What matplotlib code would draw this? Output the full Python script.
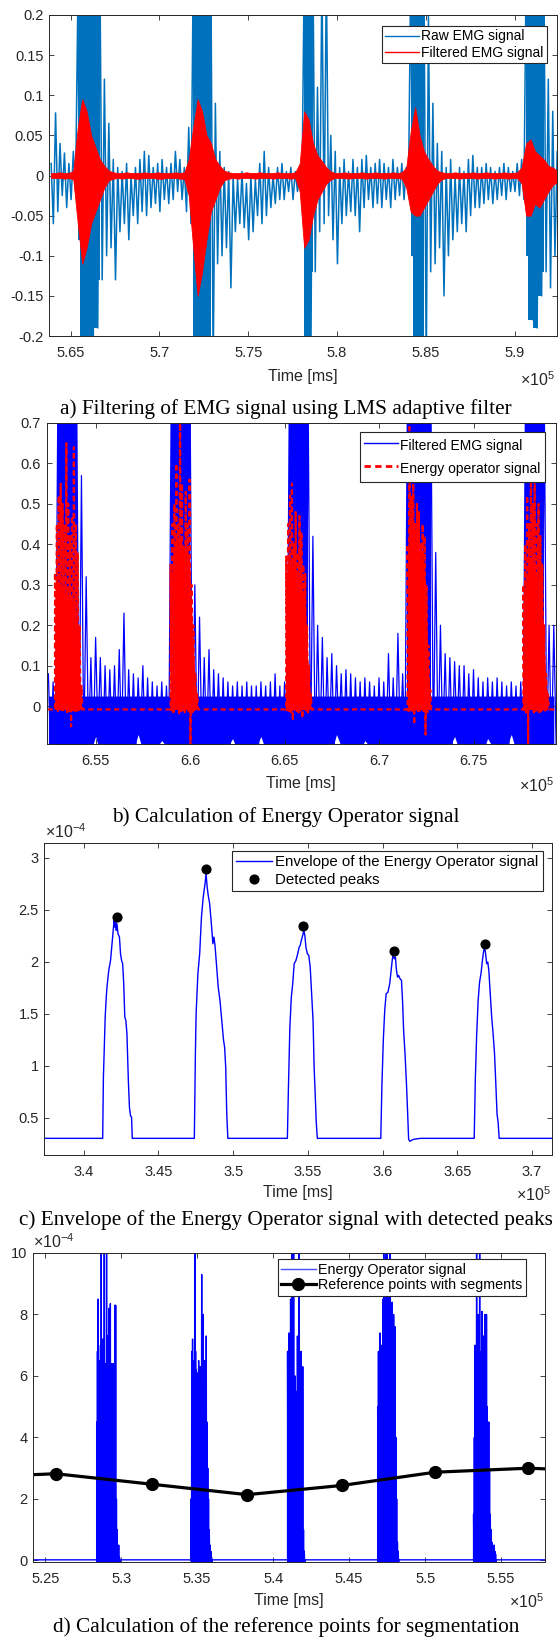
import numpy as np
import matplotlib
matplotlib.use("Agg")
import matplotlib.pyplot as plt
from matplotlib.lines import Line2D

plt.rcParams['font.family'] = ['Liberation Sans', 'DejaVu Sans']
plt.rcParams['axes.unicode_minus'] = False
plt.rcParams['mathtext.default'] = 'regular'

# ======================= DATA =======================
# (a) raw / LMS-filtered EMG : per-bin extremes (bins of 0.0025 x1e5 ms)
a_t0, a_dt = 5.639, 0.0025
raw_hi = [0.015, 0.078, 0.040, 0.028, 0.015, 0.030, 0.210, 0.250, 0.250, 0.250,
          0.250, 0.250, 0.120, 0.065, 0.020, 0.010, 0.005, 0.015, 0.000, 0.010,
          0.020, 0.030, 0.025, 0.010, 0.015, 0.020, 0.010, 0.015, 0.030, 0.020,
          0.010, 0.060, 0.250, 0.250, 0.250, 0.250, 0.250, 0.090, 0.030, 0.010,
          0.005, 0.000, -0.005, 0.005, -0.010, 0.000, -0.005, 0.015, 0.030, 0.010,
          0.000, 0.010, 0.015, 0.005, 0.010, 0.005, 0.010, 0.250, 0.250, 0.250,
          0.110, 0.250, 0.250, 0.050, 0.030, 0.010, 0.020, 0.005, 0.020, 0.010,
          0.020, 0.025, 0.010, 0.015, 0.020, 0.015, 0.010, 0.020, 0.010, 0.015,
          0.010, 0.250, 0.250, 0.250, 0.250, 0.200, 0.090, 0.040, 0.030, 0.010,
          0.020, 0.000, 0.010, 0.005, 0.020, 0.025, 0.010, 0.010, 0.015, 0.010,
          0.005, 0.010, 0.015, 0.010, 0.005, 0.015, 0.020, 0.250, 0.250, 0.250,
          0.250, 0.250, 0.120, 0.080, 0.030]
raw_lo = [-0.060, -0.045, -0.025, -0.040, -0.030, -0.020, -0.080, -0.250, -0.250, -0.210,
          -0.190, -0.130, -0.100, -0.090, -0.130, -0.070, -0.060, -0.080, -0.050, -0.060,
          -0.045, -0.050, -0.040, -0.035, -0.045, -0.030, -0.035, -0.030, -0.020, -0.030,
          -0.045, -0.060, -0.250, -0.250, -0.250, -0.250, -0.250, -0.110, -0.100, -0.090,
          -0.140, -0.070, -0.060, -0.065, -0.080, -0.070, -0.050, -0.060, -0.050, -0.040,
          -0.035, -0.030, -0.030, -0.020, -0.030, -0.020, -0.025, -0.250, -0.250, -0.120,
          -0.070, -0.060, -0.050, -0.080, -0.110, -0.060, -0.050, -0.045, -0.050, -0.070,
          -0.040, -0.030, -0.040, -0.035, -0.040, -0.030, -0.040, -0.030, -0.025, -0.030,
          -0.020, -0.100, -0.250, -0.250, -0.250, -0.120, -0.110, -0.090, -0.150, -0.100,
          -0.080, -0.070, -0.060, -0.070, -0.050, -0.040, -0.040, -0.035, -0.030, -0.035,
          -0.030, -0.025, -0.030, -0.020, -0.020, -0.025, -0.030, -0.100, -0.180, -0.190,
          -0.150, -0.120, -0.140, -0.100, -0.120]
raw_bursts = [(5.654, 5.668), (5.7175, 5.7306), (5.780, 5.7876), (5.841, 5.8507), (5.9045, 5.9166)]
filt_hi = [0.003, 0.003, 0.004, 0.003, 0.003, 0.006, 0.060, 0.095, 0.080, 0.050,
           0.035, 0.020, 0.012, 0.006, 0.004, 0.003, 0.003, 0.004, 0.003, 0.003,
           0.003, 0.004, 0.003, 0.003, 0.004, 0.003, 0.003, 0.003, 0.004, 0.003,
           0.004, 0.020, 0.060, 0.095, 0.080, 0.050, 0.040, 0.020, 0.012, 0.006,
           0.004, 0.003, 0.003, 0.003, 0.004, 0.003, 0.003, 0.004, 0.003, 0.003,
           0.003, 0.004, 0.003, 0.003, 0.003, 0.004, 0.015, 0.080, 0.070, 0.040,
           0.025, 0.018, 0.010, 0.005, 0.003, 0.003, 0.004, 0.003, 0.003, 0.003,
           0.004, 0.003, 0.003, 0.004, 0.003, 0.003, 0.003, 0.004, 0.003, 0.004,
           0.010, 0.055, 0.085, 0.050, 0.030, 0.020, 0.012, 0.006, 0.004, 0.003,
           0.003, 0.004, 0.003, 0.003, 0.003, 0.004, 0.003, 0.003, 0.004, 0.003,
           0.003, 0.003, 0.004, 0.003, 0.003, 0.004, 0.010, 0.040, 0.045, 0.030,
           0.025, 0.020, 0.012, 0.010, 0.006]
filt_lo = [-0.003, -0.003, -0.003, -0.004, -0.003, -0.005, -0.060, -0.110, -0.090, -0.060,
           -0.045, -0.030, -0.015, -0.006, -0.004, -0.003, -0.004, -0.003, -0.003, -0.004,
           -0.004, -0.003, -0.003, -0.003, -0.004, -0.004, -0.003, -0.003, -0.003, -0.004,
           -0.004, -0.025, -0.090, -0.150, -0.120, -0.080, -0.045, -0.030, -0.015, -0.006,
           -0.004, -0.003, -0.004, -0.003, -0.003, -0.003, -0.004, -0.003, -0.003, -0.003,
           -0.004, -0.003, -0.003, -0.003, -0.004, -0.003, -0.020, -0.090, -0.080, -0.050,
           -0.030, -0.020, -0.010, -0.005, -0.003, -0.003, -0.003, -0.004, -0.003, -0.003,
           -0.003, -0.004, -0.003, -0.003, -0.003, -0.004, -0.003, -0.003, -0.003, -0.004,
           -0.015, -0.045, -0.050, -0.050, -0.040, -0.030, -0.020, -0.010, -0.005, -0.003,
           -0.003, -0.003, -0.004, -0.003, -0.003, -0.003, -0.004, -0.003, -0.003, -0.003,
           -0.004, -0.003, -0.003, -0.004, -0.003, -0.003, -0.010, -0.050, -0.050, -0.035,
           -0.040, -0.030, -0.020, -0.012, -0.008]
a_xticks = [5.65, 5.70, 5.75, 5.80, 5.85, 5.90]
a_xticklabels = ['5.65', '5.7', '5.75', '5.8', '5.85', '5.9']
a_yticks = [-0.2, -0.15, -0.1, -0.05, 0, 0.05, 0.1, 0.15, 0.2]
a_yticklabels = ['-0.2', '-0.15', '-0.1', '-0.05', '0', '0.05', '0.1', '0.15', '0.2']

# (b) filtered EMG (per-bin extremes) and energy operator bursts
b_t0, b_dt = 6.525, 0.0025
emg_hi = [0.08, 0.06, 0.75, 0.75, 0.75, 0.75, 0.75, 0.57, 0.32, 0.12,
          0.17, 0.12, 0.10, 0.09, 0.10, 0.14, 0.23, 0.09, 0.08, 0.07,
          0.10, 0.07, 0.06, 0.05, 0.06, 0.05, 0.75, 0.75, 0.75, 0.75,
          0.75, 0.30, 0.22, 0.12, 0.14, 0.09, 0.08, 0.07, 0.06, 0.05,
          0.06, 0.05, 0.06, 0.05, 0.05, 0.06, 0.05, 0.06, 0.08, 0.05,
          0.06, 0.75, 0.75, 0.75, 0.75, 0.75, 0.42, 0.20, 0.17, 0.12,
          0.13, 0.10, 0.08, 0.09, 0.08, 0.07, 0.06, 0.07, 0.06, 0.05,
          0.07, 0.06, 0.13, 0.07, 0.18, 0.08, 0.75, 0.75, 0.75, 0.75,
          0.75, 0.75, 0.38, 0.20, 0.13, 0.12, 0.11, 0.10, 0.10, 0.08,
          0.09, 0.07, 0.06, 0.07, 0.06, 0.07, 0.06, 0.05, 0.06, 0.05,
          0.06, 0.75, 0.75, 0.75, 0.75, 0.75, 0.20, 0.20]
emg_lo = [-0.12, -0.10, -0.12, -0.12, -0.12, -0.12, -0.12, -0.12, -0.10, -0.11,
          -0.075, -0.12, -0.10, -0.11, -0.11, -0.10, -0.12, -0.10, -0.11, -0.07,
          -0.11, -0.10, -0.11, -0.10, -0.085, -0.10, -0.12, -0.12, -0.12, -0.12,
          -0.12, -0.12, -0.10, -0.11, -0.12, -0.10, -0.10, -0.11, -0.10, -0.08,
          -0.11, -0.10, -0.11, -0.11, -0.10, -0.075, -0.11, -0.10, -0.11, -0.11,
          -0.12, -0.12, -0.12, -0.12, -0.12, -0.12, -0.12, -0.10, -0.11, -0.10,
          -0.11, -0.07, -0.10, -0.11, -0.11, -0.10, -0.11, -0.085, -0.10, -0.11,
          -0.11, -0.10, -0.11, -0.11, -0.10, -0.11, -0.12, -0.12, -0.12, -0.12,
          -0.12, -0.12, -0.12, -0.10, -0.11, -0.10, -0.075, -0.11, -0.10, -0.11,
          -0.11, -0.10, -0.11, -0.08, -0.10, -0.11, -0.11, -0.10, -0.07, -0.11,
          -0.10, -0.12, -0.12, -0.12, -0.12, -0.12, -0.12, -0.10]
emg_band_top = 0.025
emg_bursts = [(6.5287, 6.5409), (6.590, 6.6023), (6.6513, 6.6636), (6.7145, 6.7281), (6.7768, 6.7881)]
eo_base = -0.008
eo_dt = 0.001
eo_starts = [6.5285, 6.5897, 6.6509, 6.7151, 6.7764]
eo_hi_1 = [0.33, 0.45, 0.52, 0.55, 0.50, 0.45, 0.65, 0.50, 0.42, 0.47, 0.64, 0.45, 0.38, 0.20, 0.05]
eo_lo_1 = [-0.010, -0.012, -0.008, -0.015, -0.010, -0.012, -0.020, -0.012, -0.050, -0.010, -0.012, -0.015, -0.010, -0.008, -0.008]
eo_core_1 = [0.30, 0.32, 0.30, 0.28, 0.30, 0.28, 0.30, 0.27, 0.28, 0.26, 0.25, 0.22, 0.15, 0.08, 0.02]
eo_hi_2 = [0.35, 0.45, 0.50, 0.60, 0.45, 0.70, 0.55, 0.40, 0.53, 0.45, 0.56, 0.30, 0.20, 0.08, 0.03]
eo_lo_2 = [-0.010, -0.015, -0.012, -0.010, -0.020, -0.012, -0.010, -0.015, -0.010, -0.012, -0.120, -0.015, -0.010, -0.008, -0.008]
eo_core_2 = [0.30, 0.36, 0.40, 0.42, 0.40, 0.42, 0.40, 0.38, 0.40, 0.38, 0.36, 0.25, 0.15, 0.06, 0.02]
eo_hi_3 = [0.37, 0.45, 0.52, 0.55, 0.40, 0.48, 0.38, 0.47, 0.43, 0.35, 0.33, 0.20, 0.10, 0.03]
eo_lo_3 = [-0.010, -0.012, -0.015, -0.035, -0.010, -0.012, -0.015, -0.010, -0.030, -0.012, -0.010, -0.015, -0.008, -0.008]
eo_core_3 = [0.30, 0.37, 0.36, 0.35, 0.34, 0.34, 0.33, 0.32, 0.30, 0.28, 0.26, 0.15, 0.06, 0.02]
eo_hi_4 = [0.40, 0.69, 0.52, 0.55, 0.45, 0.50, 0.48, 0.40, 0.45, 0.42, 0.30, 0.15, 0.04]
eo_lo_4 = [-0.012, -0.010, -0.015, -0.045, -0.010, -0.012, -0.015, -0.010, -0.012, -0.070, -0.015, -0.010, -0.008]
eo_core_4 = [0.38, 0.45, 0.46, 0.45, 0.44, 0.43, 0.42, 0.38, 0.36, 0.33, 0.22, 0.10, 0.02]
eo_hi_5 = [0.30, 0.40, 0.52, 0.45, 0.55, 0.50, 0.60, 0.45, 0.50, 0.42, 0.35, 0.20, 0.08, 0.03]
eo_lo_5 = [-0.010, -0.015, -0.120, -0.012, -0.010, -0.015, -0.012, -0.010, -0.015, -0.012, -0.010, -0.015, -0.008, -0.008]
eo_core_5 = [0.25, 0.30, 0.33, 0.35, 0.36, 0.35, 0.34, 0.33, 0.32, 0.30, 0.26, 0.15, 0.05, 0.02]
b_xticks = [6.55, 6.60, 6.65, 6.70, 6.75]
b_xticklabels = ['6.55', '6.6', '6.65', '6.7', '6.75']
b_yticks = [0, 0.1, 0.2, 0.3, 0.4, 0.5, 0.6, 0.7]
b_yticklabels = ['0', '0.1', '0.2', '0.3', '0.4', '0.5', '0.6', '0.7']

# (c) envelope of energy operator (x1e-4) and detected peaks
env_t = [3.3735, 3.41265, 3.41313, 3.4136, 3.41432, 3.41504, 3.41551, 3.41671, 3.4179, 3.4191,
         3.42029, 3.42077, 3.42124, 3.42172, 3.4222, 3.42291, 3.42387, 3.42458, 3.4253, 3.42602,
         3.42673, 3.42745, 3.42816, 3.42888, 3.42983, 3.43055, 3.43126, 3.43198, 3.43246,
         3.47399, 3.4747, 3.47518, 3.47637, 3.47757, 3.47876, 3.47995, 3.48115, 3.48186, 3.48258,
         3.48329, 3.48425, 3.4852, 3.48592, 3.4864, 3.48711, 3.48783, 3.48878, 3.48998, 3.49117,
         3.49236, 3.49356, 3.49427, 3.49499, 3.4957, 3.49642,
         3.53627, 3.53699, 3.53794, 3.5389, 3.53985, 3.54081, 3.542, 3.5432, 3.54415, 3.54487,
         3.54558, 3.54654, 3.54726, 3.54797, 3.54869, 3.54964, 3.5506, 3.55155, 3.55251, 3.55346,
         3.55418, 3.55489, 3.55561, 3.55632,
         3.5988, 3.59952, 3.60047, 3.60143, 3.60238, 3.60358, 3.60477, 3.60573, 3.60644, 3.60716,
         3.60787, 3.60859, 3.60931, 3.61002, 3.61074, 3.61169, 3.61265, 3.61336, 3.61408, 3.61503,
         3.61599, 3.61671, 3.61742, 3.61814, 3.62076, 3.62554,
         3.66133, 3.66205, 3.663, 3.66396, 3.66491, 3.66587, 3.66683, 3.66754, 3.66826, 3.66897,
         3.66969, 3.6704, 3.67112, 3.67207, 3.67303, 3.67398, 3.67494, 3.67589, 3.67661, 3.67733,
         3.67804, 3.7135]
env_v = [0.304, 0.304, 0.891, 1.115, 1.468, 1.66, 1.756, 1.917, 2.013, 2.205,
         2.397, 2.333, 2.413, 2.301, 2.365, 2.269, 2.237, 2.077, 2.013, 1.981,
         1.788, 1.468, 1.436, 1.308, 0.859, 0.603, 0.522, 0.506, 0.304,
         0.304, 1.115, 1.5, 1.885, 2.077, 2.429, 2.622, 2.75, 2.846, 2.718,
         2.638, 2.558, 2.397, 2.269, 2.173, 2.237, 2.157, 1.981, 1.756, 1.628,
         1.436, 1.244, 1.179, 0.987, 0.538, 0.304,
         0.304, 0.795, 1.372, 1.66, 1.788, 1.981, 2.013, 2.077, 2.141, 2.157,
         2.205, 2.253, 2.301, 2.253, 2.141, 2.077, 2.061, 1.949, 1.692, 1.436,
         0.987, 0.731, 0.458, 0.304,
         0.304, 0.795, 1.244, 1.532, 1.692, 1.708, 1.788, 1.917, 2.013, 2.077,
         2.029, 2.045, 1.917, 1.853, 1.869, 1.837, 1.821, 1.628, 1.34, 1.115,
         0.827, 0.571, 0.298, 0.276, 0.295, 0.304,
         0.304, 0.859, 1.308, 1.628, 1.804, 1.885, 2.013, 2.093, 2.141, 2.077,
         1.981, 1.997, 1.917, 1.692, 1.468, 1.308, 1.115, 0.795, 0.538, 0.458,
         0.304, 0.304]
peak_t = [3.42196, 3.48186, 3.54678, 3.60763, 3.66849]
peak_v = [2.426, 2.894, 2.340, 2.106, 2.170]
c_xticks = [3.40, 3.45, 3.50, 3.55, 3.60, 3.65, 3.70]
c_xticklabels = ['3.4', '3.45', '3.5', '3.55', '3.6', '3.65', '3.7']
c_yticks = [0.5, 1.0, 1.5, 2.0, 2.5, 3.0]
c_yticklabels = ['0.5', '1', '1.5', '2', '2.5', '3']

# (d) energy operator bursts (x1e-4) and reference points
d_base = 0.02
d_floor = -0.06
d_dt = 0.0005
d_starts = [5.2839, 5.3460, 5.4095, 5.4688, 5.5319]
d_hi_1 = [4.5, 6.8, 8.5, 6.0, 6.5, 7.0, 10.5, 5.5, 7.2, 6.0, 10.5, 6.4, 6.0, 10.5, 7.3,
          5.5, 8.2, 6.0, 8.35, 6.4, 6.4, 5.8, 6.4, 5.0, 8.3, 8.3, 2.0, 1.0, 0.3, 0.5, 0.1]
d_hi_2 = [2.0, 6.8, 7.2, 6.5, 6.0, 10.5, 6.8, 6.2, 6.1, 5.8, 6.5, 6.0, 6.3, 5.5, 9.3,
          6.0, 8.0, 6.0, 6.5, 5.0, 7.3, 4.5, 3.0, 2.0, 1.0, 0.5, 0.3, 0.1]
d_hi_3 = [6.8, 5.5, 7.4, 6.0, 8.5, 6.5, 10.5, 7.0, 10.5, 5.0, 6.0, 4.6, 5.5, 7.3, 0.8,
          10.5, 6.8, 5.5, 6.8, 5.0, 6.3, 1.0, 0.3]
d_hi_4 = [5.0, 6.8, 6.0, 7.4, 6.5, 7.0, 6.0, 8.5, 10.5, 7.0, 8.5, 10.5, 10.5, 7.5, 9.0,
          6.0, 10.5, 7.0, 6.5, 8.4, 6.0, 8.0, 5.5, 7.6, 4.0, 2.0, 0.6, 0.3]
d_hi_5 = [1.5, 4.0, 7.0, 6.0, 10.5, 7.0, 8.0, 6.5, 10.5, 6.0, 6.8, 8.1, 6.0, 7.3, 6.0,
          8.0, 6.5, 8.0, 5.0, 4.5, 4.5, 3.0, 1.5, 1.0, 0.6, 0.5, 0.4, 0.5, 0.3, 0.2]
ref_t = [5.1950, 5.2571, 5.3201, 5.3829, 5.4453, 5.5065, 5.5676, 5.6290]
ref_v = [2.70, 2.82, 2.48, 2.14, 2.44, 2.87, 3.00, 2.89]
d_xticks = [5.25, 5.30, 5.35, 5.40, 5.45, 5.50, 5.55]
d_xticklabels = ['5.25', '5.3', '5.35', '5.4', '5.45', '5.5', '5.55']
d_yticks = [0, 2, 4, 6, 8, 10]
d_yticklabels = ['0', '2', '4', '6', '8', '10']

captions = ['a) Filtering of EMG signal using LMS adaptive filter',
            'b) Calculation of Energy Operator signal',
            'c) Envelope of the Energy Operator signal with detected peaks',
            'd) Calculation of the reference points for segmentation']

# ======================= LAYOUT =======================
W, H = 559, 1639
fig = plt.figure(figsize=(W / 100, H / 100), dpi=100)
fig.patch.set_facecolor('white')
GRAY = '#262626'
TICK_FS = 10.5
LAB_FS = 11.5
CAP_FS = 15.3


def make_axes(l, r, t, b):
    return fig.add_axes([l / W, 1 - b / H, (r - l) / W, (b - t) / H])


def style(ax, xlim, ylim, xt, xtl, yt, ytl, label_top_px, ax_bottom, ax_h):
    ax.set_xlim(xlim)
    ax.set_ylim(ylim)
    ax.set_xticks(xt)
    ax.set_xticklabels(xtl)
    ax.set_yticks(yt)
    ax.set_yticklabels(ytl)
    ax.tick_params(axis='both', direction='in', length=3.5, width=0.6, colors=GRAY,
                   labelsize=TICK_FS, top=True, right=True)
    ax.tick_params(axis='x', pad=7.5)
    ax.tick_params(axis='y', pad=4)
    for s in ax.spines.values():
        s.set_color(GRAY)
        s.set_linewidth(0.7)
        s.set_zorder(5)
    ax.set_xlabel('Time [ms]', fontsize=LAB_FS, color=GRAY)
    ax.xaxis.set_label_coords(0.5, -(label_top_px - ax_bottom) / ax_h)


def zigzag(t, hi, lo, dt):
    t = np.asarray(t, float)
    x = np.column_stack([t, t + dt / 2]).ravel()
    y = np.column_stack([np.asarray(hi, float), np.asarray(lo, float)]).ravel()
    return x, y


def in_ranges(t, ranges):
    m = np.zeros(len(t), bool)
    for s, e in ranges:
        m |= (t >= s) & (t <= e)
    return m


def burst_line(x_left, x_right, base, starts, his, los, dt):
    xs, ys = [x_left], [base]
    for t0, hi, lo in zip(starts, his, los):
        t = t0 + dt * np.arange(len(hi))
        zx, zy = zigzag(t, hi, lo, dt)
        xs += [t0] + list(zx) + [t[-1] + dt]
        ys += [base] + list(zy) + [base]
    xs.append(x_right)
    ys.append(base)
    return xs, ys


def legend(ax, handles, labels, anchor, fs, **kw):
    lg = ax.legend(handles, labels, loc='upper right', bbox_to_anchor=anchor,
                   bbox_transform=ax.transAxes, borderaxespad=0, fancybox=False,
                   edgecolor=GRAY, framealpha=1, fontsize=fs,
                   handlelength=2.4, handletextpad=0.2, **kw)
    lg.get_frame().set_linewidth(0.8)
    lg.set_zorder(10)
    return lg


def caption(text, baseline):
    fig.text(286 / W, 1 - baseline / H, text, ha='center', va='baseline',
             family=['Liberation Serif', 'DejaVu Serif'], fontsize=CAP_FS)


def exp_text(x_px, baseline, s, ha):
    fig.text(x_px / W, 1 - baseline / H, s, ha=ha, va='baseline',
             fontsize=LAB_FS, color=GRAY)


# ---------------- (a) ----------------
axA = make_axes(49, 557, 15, 336)
ta = a_t0 + a_dt * np.arange(len(raw_hi))
xr, yr = zigzag(ta, raw_hi, raw_lo, a_dt)
axA.plot(xr, yr, color='#0072BD', lw=1.1, zorder=2)
axA.fill_between(ta, raw_lo, raw_hi, where=in_ranges(ta, raw_bursts), step='mid',
                 color='#0072BD', lw=0, zorder=2)
axA.fill_between(ta, filt_lo, filt_hi, color='#FF0000', lw=0.6, zorder=3)
style(axA, (5.6378, 5.9239), (-0.2, 0.2), a_xticks, a_xticklabels,
      a_yticks, a_yticklabels, 369, 336, 321)
legend(axA, [Line2D([], [], color='#0072BD', lw=1), Line2D([], [], color='#FF0000', lw=1)],
       ['Raw EMG signal', 'Filtered EMG signal'], (0.9807, 0.9657), 10,
       borderpad=0.25, labelspacing=0.17)
exp_text(555, 386, r'$\times10^{5}$', 'right')
caption(captions[0], 414)

# ---------------- (b) ----------------
axB = make_axes(46.5, 555.5, 423, 744)
tb = b_t0 + b_dt * np.arange(len(emg_hi))
axB.fill_between(tb, emg_lo, np.minimum(emg_hi, emg_band_top), color='#0000FF', lw=0)
xb, yb = zigzag(tb, emg_hi, emg_lo, b_dt)
axB.plot(xb, yb, color='#0000FF', lw=0.9)
axB.fill_between(tb, emg_lo, emg_hi, where=in_ranges(tb, emg_bursts), step='mid',
                 color='#0000FF', lw=0)
for t0, core in zip(eo_starts, [eo_core_1, eo_core_2, eo_core_3, eo_core_4, eo_core_5]):
    tc = t0 + eo_dt * np.arange(len(core))
    axB.fill_between(tc, eo_base, core, color='#FF0000', lw=0, zorder=3)
ex, ey = burst_line(6.52, 6.80, eo_base, eo_starts,
                    [eo_hi_1, eo_hi_2, eo_hi_3, eo_hi_4, eo_hi_5],
                    [eo_lo_1, eo_lo_2, eo_lo_3, eo_lo_4, eo_lo_5], eo_dt)
axB.plot(ex, ey, color='#FF0000', lw=1.6, linestyle=(0, (2.3, 1.55)), zorder=3)
style(axB, (6.524, 6.7934), (-0.0935, 0.7), b_xticks, b_xticklabels,
      b_yticks, b_yticklabels, 776, 744, 321)
legend(axB, [Line2D([], [], color='#0000FF', lw=1),
             Line2D([], [], color='#FF0000', lw=2, linestyle=(0, (2.3, 1.55)))],
       ['Filtered EMG signal', 'Energy operator signal'], (0.9794, 0.972), 10,
       borderpad=0.3, labelspacing=0.4, handleheight=1.6)
exp_text(554, 792, r'$\times10^{5}$', 'right')
caption(captions[1], 822)

# ---------------- (c) ----------------
axC = make_axes(44.2, 552, 843, 1155)
axC.plot(env_t, env_v, color='#0000FF', lw=1.0)
axC.plot(peak_t, peak_v, linestyle='none', marker='o', ms=6.3, color='black')
style(axC, (3.3735, 3.7134), (0.144, 3.141), c_xticks, c_xticklabels,
      c_yticks, c_yticklabels, 1185, 1155, 312)
legend(axC, [Line2D([], [], color='#0000FF', lw=1),
             Line2D([], [], linestyle='none', marker='o', ms=6.3, color='black')],
       ['Envelope of the Energy Operator signal', 'Detected peaks'], (0.9815, 0.9744), 10.8,
       borderpad=0.27, labelspacing=0.25)
exp_text(45, 838, r'$\times10^{-4}$', 'left')
exp_text(551, 1201, r'$\times10^{5}$', 'right')
caption(captions[2], 1225)

# ---------------- (d) ----------------
axD = make_axes(33, 545, 1253, 1562)
dx, dy = burst_line(5.23, 5.59, d_base, d_starts,
                    [d_hi_1, d_hi_2, d_hi_3, d_hi_4, d_hi_5],
                    [[d_floor] * len(h) for h in [d_hi_1, d_hi_2, d_hi_3, d_hi_4, d_hi_5]],
                    d_dt)
axD.plot(dx, dy, color='#0000FF', lw=1.0)
axD.plot(ref_t, ref_v, color='black', lw=2.3, marker='o', ms=8.5)
style(axD, (5.242, 5.5789), (-0.05, 10), d_xticks, d_xticklabels,
      d_yticks, d_yticklabels, 1593, 1562, 309)
legend(axD, [Line2D([], [], color='#4A4AFF', lw=1),
             Line2D([], [], color='black', lw=2.3, marker='o', ms=8.5)],
       ['Energy Operator signal', 'Reference points with segments'], (0.963, 0.9796), 10.3,
       borderpad=0.24, labelspacing=0.12)
exp_text(33, 1248, r'$\times10^{-4}$', 'left')
exp_text(544, 1608, r'$\times10^{5}$', 'right')
caption(captions[3], 1632)

fig.savefig('out.png', dpi=100, facecolor='white')
